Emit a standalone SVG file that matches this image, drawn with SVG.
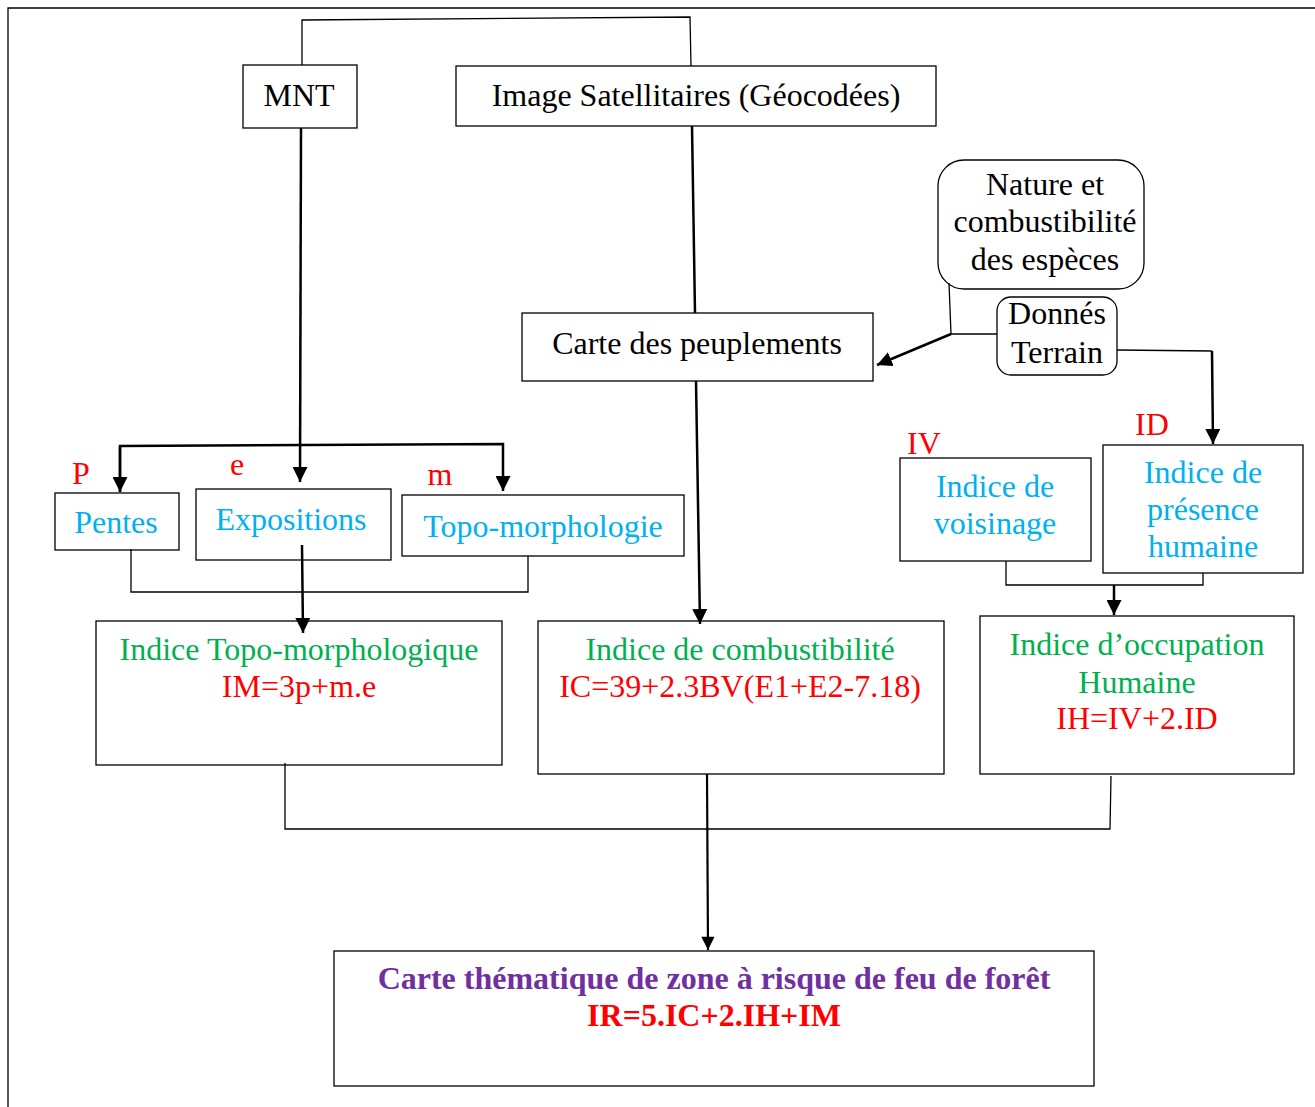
<svg xmlns="http://www.w3.org/2000/svg" width="1315" height="1107" viewBox="0 0 1315 1107">
<style>
.box{fill:#fff;stroke:#000;stroke-width:1.3}
.t{font-family:"Liberation Serif","Times New Roman",serif;font-size:32px;text-anchor:middle}
.k{fill:#000}
.c{fill:#00b0f0}
.g{fill:#00b050}
.r{fill:#ff0000}
.p{fill:#7030a0}
.b{font-weight:bold}
.ln{fill:none;stroke:#000;stroke-width:1.3}
.ar{fill:none;stroke:#000;stroke-width:2.5}
.ar2{fill:none;stroke:#000;stroke-width:2.2}
</style>
<defs>
<marker id="ah" viewBox="0 0 10 10" refX="10" refY="5" markerWidth="6" markerHeight="6" markerUnits="strokeWidth" orient="auto">
<path d="M0,0 L10,5 L0,10 z" fill="#000"/>
</marker>
<marker id="ah2" viewBox="0 0 10 10" refX="10" refY="5" markerWidth="7" markerHeight="6" markerUnits="strokeWidth" orient="auto">
<path d="M0,0 L10,5 L0,10 z" fill="#000"/>
</marker>
</defs>
<rect width="1315" height="1107" fill="#fff"/>
<path class="ln" d="M8,1107 L8,8 L1315,8"/>

<g id="mnt">
<rect class="box" x="243" y="65" width="114" height="63"/>
<text class="t k" x="299" y="106">MNT</text>
</g>
<g id="image-satellitaires">
<rect class="box" x="456" y="66" width="480" height="60"/>
<text class="t k" x="696" y="106">Image Satellitaires (Géocodées)</text>
</g>
<g id="nature">
<rect class="box" x="938" y="160" width="206" height="129" rx="26"/>
<text class="t k" x="1045" y="195">Nature et</text>
<text class="t k" x="1045" y="232">combustibilité</text>
<text class="t k" x="1045" y="270">des espèces</text>
</g>
<g id="donnes-terrain">
<rect class="box" x="997" y="297" width="120" height="78" rx="14"/>
<text class="t k" x="1057" y="324">Donnés</text>
<text class="t k" x="1057" y="363">Terrain</text>
</g>
<g id="carte-peuplements">
<rect class="box" x="522" y="313" width="351" height="68"/>
<text class="t k" x="697" y="354">Carte des peuplements</text>
</g>
<g id="label-p"><text class="t r" x="81" y="484">P</text></g>
<g id="label-e"><text class="t r" x="237" y="475">e</text></g>
<g id="label-m"><text class="t r" x="440" y="485">m</text></g>
<g id="pentes">
<rect class="box" x="55" y="493" width="124" height="57"/>
<text class="t c" x="116" y="533">Pentes</text>
</g>
<g id="expositions">
<rect class="box" x="196" y="489" width="195" height="71"/>
<text class="t c" x="291" y="530">Expositions</text>
</g>
<g id="topo-morphologie">
<rect class="box" x="402" y="495" width="282" height="61"/>
<text class="t c" x="543" y="537">Topo-morphologie</text>
</g>
<g id="label-iv"><text class="t r" x="924" y="454">IV</text></g>
<g id="label-id"><text class="t r" x="1152" y="435">ID</text></g>
<g id="indice-voisinage">
<rect class="box" x="900" y="458" width="191" height="103"/>
<text class="t c" x="995" y="497">Indice de</text>
<text class="t c" x="995" y="534">voisinage</text>
</g>
<g id="indice-presence">
<rect class="box" x="1103" y="445" width="200" height="128"/>
<text class="t c" x="1203" y="483">Indice de</text>
<text class="t c" x="1203" y="520">présence</text>
<text class="t c" x="1203" y="557">humaine</text>
</g>
<g id="indice-topo">
<rect class="box" x="96" y="621" width="406" height="144"/>
<text class="t g" x="299" y="660">Indice Topo-morphologique</text>
<text class="t r" x="299" y="697">IM=3p+m.e</text>
</g>
<g id="indice-combustibilite">
<rect class="box" x="538" y="621" width="406" height="153"/>
<text class="t g" x="740" y="660">Indice de combustibilité</text>
<text class="t r" x="740" y="697">IC=39+2.3BV(E1+E2-7.18)</text>
</g>
<g id="indice-occupation">
<rect class="box" x="980" y="616" width="314" height="158"/>
<text class="t g" x="1137" y="655">Indice d’occupation</text>
<text class="t g" x="1137" y="693">Humaine</text>
<text class="t r" x="1137" y="729">IH=IV+2.ID</text>
</g>
<g id="carte-thematique">
<rect class="box" x="334" y="951" width="760" height="135"/>
<text class="t p b" x="714" y="989">Carte thématique de zone à risque de feu de forêt</text>
<text class="t r b" x="714" y="1026">IR=5.IC+2.IH+IM</text>
</g>

<g id="connectors">
<path class="ln" d="M302,65 L302,20 L690,17 L691,66"/>
<path class="ar" d="M301,128 L300,482" marker-end="url(#ah)"/>
<path class="ar" d="M120,492 L120,446 L503,444 L503,491" marker-end="url(#ah)"/>
<path class="ar" d="M120,447 L120,492" marker-end="url(#ah)"/>
<path class="ar" d="M692,126 L695,313"/>
<path class="ar" d="M696,381 L700,624" marker-end="url(#ah)"/>
<path class="ln" d="M949,283 L951,334 L997,334"/>
<path class="ar" d="M951,334 L877,365" marker-end="url(#ah)"/>
<path class="ln" d="M1117,350 L1212,351"/>
<path class="ar" d="M1212,351 L1213,444" marker-end="url(#ah)"/>
<path class="ln" d="M131,549 L131,592 L528,592 L528,556"/>
<path class="ar" d="M302,545 L303,633" marker-end="url(#ah)"/>
<path class="ln" d="M1006,561 L1006,585 L1203,585 L1203,573"/>
<path class="ar" d="M1114,585 L1114,615" marker-end="url(#ah)"/>
<path class="ln" d="M285,763 L285,829 L1110,829 L1111,776"/>
<path class="ar2" d="M707,774 L708,950" marker-end="url(#ah2)"/>
</g>
</svg>
